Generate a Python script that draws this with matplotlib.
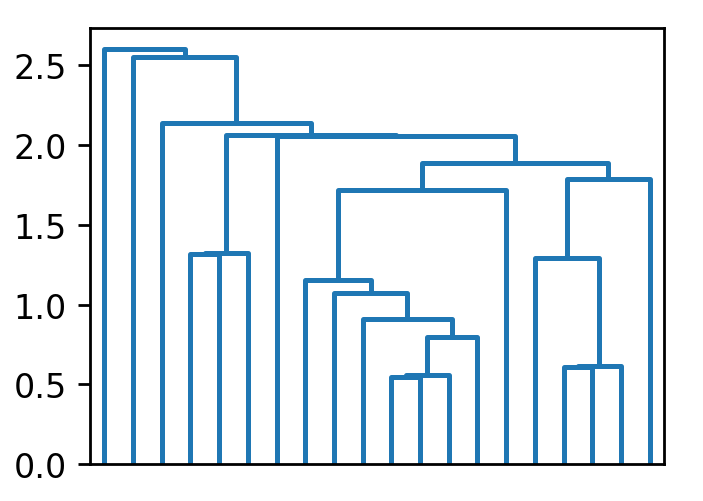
import matplotlib
matplotlib.use("Agg")
import matplotlib.pyplot as plt

# Dendrogram structure: 20 leaves (0..19); merge k creates cluster 20+k
n_leaves = 20
merge_left = [10, 20, 21, 9, 8, 7, 25, 16, 27, 15, 29, 26, 6, 3, 33, 34, 2, 1, 0]
merge_right = [11, 12, 13, 22, 23, 24, 14, 17, 18, 28, 19, 30, 31, 4, 5, 32, 35, 36, 37]
merge_height = [0.545, 0.56, 0.797, 0.91, 1.073, 1.154, 1.719, 0.607, 0.612,
                1.292, 1.788, 1.888, 2.058, 1.318, 1.325, 2.062, 2.142, 2.553, 2.605]

fig = plt.figure(figsize=(7.03 / 2, 5.02 / 2), dpi=200)
ax = fig.add_axes([90 / 703, 1 - 465 / 502, (664 - 90) / 703, (465 - 29) / 502])

pos = {i: 5 + 10 * i for i in range(n_leaves)}
hgt = {i: 0.0 for i in range(n_leaves)}
for k, (a, b, h) in enumerate(zip(merge_left, merge_right, merge_height)):
    xa, xb = pos[a], pos[b]
    ax.plot([xa, xa, xb, xb], [hgt[a], h, h, hgt[b]], color="C0", lw=1.8)
    pos[n_leaves + k] = (xa + xb) / 2
    hgt[n_leaves + k] = h

ax.set_xlim(0, 10 * n_leaves)
ax.set_ylim(0, max(merge_height) * 1.05)
ax.set_xticks([])
ax.set_yticks([0, 0.5, 1.0, 1.5, 2.0, 2.5])
ax.tick_params(axis="y", labelsize=12, length=4.2, width=1.0, pad=4.2)
for s in ax.spines.values():
    s.set_linewidth(1.0)

fig.savefig("out.png", dpi=200)
